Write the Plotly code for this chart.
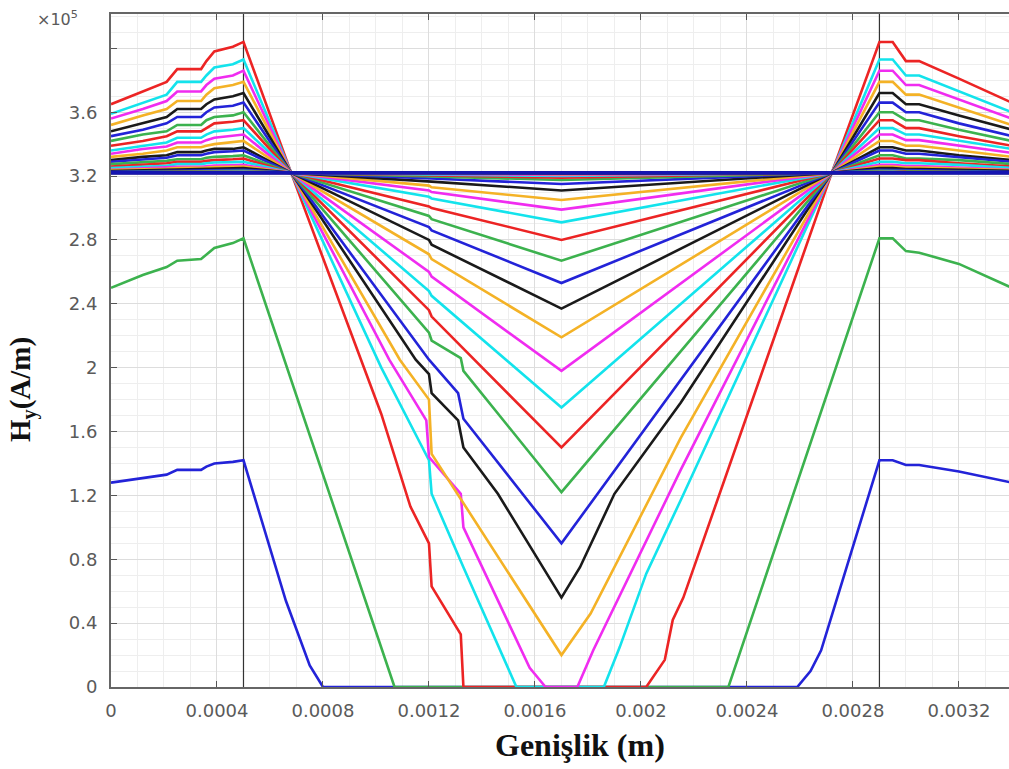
import plotly.graph_objects as go

# ---------------------------------------------------------------
# H_y profiles across the width (x in m, H_y in units of 1e5 A/m)
# ---------------------------------------------------------------

# positions shared by the outer (edge) segments of every curve
left_x = [0, 0.00012, 0.00021, 0.00025, 0.00034, 0.00036, 0.00039, 0.00046, 0.0005]
right_x = [0.0029, 0.00295, 0.0030, 0.00305, 0.0032, 0.0034]

# inner-segment positions used by the shallower curves
shallow_mid_x = [0.00068, 0.0012, 0.00121, 0.0017, 0.00272]

left_y = [
    [1.28, 1.31, 1.33, 1.36, 1.36, 1.38, 1.40, 1.41, 1.42],
    [2.50, 2.58, 2.63, 2.67, 2.68, 2.71, 2.75, 2.78, 2.81],
    [3.65, 3.73, 3.79, 3.87, 3.87, 3.92, 3.98, 4.01, 4.04],
    [3.59, 3.66, 3.71, 3.79, 3.79, 3.83, 3.88, 3.90, 3.93],
    [3.56, 3.62, 3.67, 3.73, 3.73, 3.77, 3.81, 3.83, 3.86],
    [3.52, 3.58, 3.62, 3.67, 3.67, 3.71, 3.75, 3.77, 3.79],
    [3.48, 3.53, 3.57, 3.62, 3.62, 3.65, 3.68, 3.70, 3.72],
    [3.45, 3.49, 3.53, 3.57, 3.57, 3.60, 3.63, 3.64, 3.66],
    [3.42, 3.46, 3.48, 3.52, 3.52, 3.55, 3.57, 3.58, 3.60],
    [3.39, 3.42, 3.45, 3.48, 3.48, 3.50, 3.53, 3.54, 3.55],
    [3.36, 3.39, 3.41, 3.44, 3.44, 3.46, 3.48, 3.49, 3.50],
    [3.34, 3.37, 3.385, 3.41, 3.41, 3.425, 3.44, 3.45, 3.46],
    [3.32, 3.34, 3.36, 3.38, 3.38, 3.39, 3.40, 3.41, 3.42],
    [3.30, 3.32, 3.33, 3.35, 3.35, 3.36, 3.37, 3.37, 3.38],
    [3.29, 3.305, 3.315, 3.33, 3.33, 3.34, 3.35, 3.355, 3.36],
    [3.275, 3.285, 3.295, 3.305, 3.305, 3.315, 3.32, 3.325, 3.33],
    [3.26, 3.27, 3.28, 3.29, 3.29, 3.295, 3.30, 3.305, 3.31],
    [3.25, 3.26, 3.265, 3.275, 3.275, 3.28, 3.285, 3.287, 3.29],
    [3.24, 3.248, 3.252, 3.258, 3.258, 3.262, 3.266, 3.268, 3.27],
    [3.237, 3.24, 3.245, 3.25, 3.25, 3.253, 3.256, 3.258, 3.26],
    [3.231, 3.235, 3.238, 3.242, 3.242, 3.244, 3.247, 3.248, 3.25],
    [3.226, 3.229, 3.231, 3.234, 3.234, 3.236, 3.238, 3.239, 3.24],
    [3.223, 3.225, 3.226, 3.228, 3.228, 3.229, 3.231, 3.232, 3.233],
    [3.222, 3.223, 3.224, 3.225, 3.225, 3.226, 3.227, 3.228, 3.229],
    [3.221, 3.222, 3.222, 3.223, 3.223, 3.224, 3.225, 3.225, 3.226],
    [3.221, 3.221, 3.221, 3.222, 3.222, 3.222, 3.223, 3.223, 3.224],
    [3.22, 3.22, 3.221, 3.221, 3.221, 3.221, 3.222, 3.222, 3.222],
    [3.22, 3.22, 3.22, 3.22, 3.22, 3.22, 3.221, 3.221, 3.221],
    [3.22, 3.22, 3.22, 3.22, 3.22, 3.22, 3.22, 3.22, 3.22],
]

mid_x = [
    [0.00066, 0.00075, 0.0008, 0.00259, 0.00264, 0.00268, 0.00273],
    [0.00107, 0.00233],
    [0.00068, 0.00102, 0.00113, 0.0012, 0.00121, 0.00132, 0.00133,
     0.00202, 0.00209, 0.00212, 0.00216, 0.00272],
    [0.00068, 0.00102, 0.0012, 0.00121, 0.00133, 0.00143, 0.00153,
     0.00186, 0.00192, 0.00202, 0.00215, 0.00272],
    [0.00068, 0.00105, 0.00119, 0.0012, 0.00132, 0.00133, 0.00158,
     0.00164, 0.00176, 0.00182, 0.00215, 0.00272],
    [0.00068, 0.00109, 0.0012, 0.00121, 0.0017, 0.00181, 0.00215, 0.00272],
    [0.00068, 0.00115, 0.0012, 0.00121, 0.00131, 0.00133, 0.00146,
     0.0017, 0.00177, 0.0019, 0.00215, 0.00272],
    [0.00068, 0.0012, 0.00131, 0.00133, 0.0017, 0.00272],
    [0.00068, 0.0012, 0.00121, 0.00132, 0.00133, 0.0017, 0.00272],
] + [shallow_mid_x] * 20

mid_y = [
    [0.54, 0.135, 0.0, 0.0, 0.10, 0.23, 0.50],
    [0.0, 0.0],
    [3.22, 1.71, 1.13, 0.90, 0.63, 0.33, 0.0, 0.0, 0.17, 0.42, 0.56, 3.22],
    [3.22, 2.00, 1.42, 1.21, 0.75, 0.38, 0.0, 0.0, 0.25, 0.71, 1.17, 3.22],
    [3.22, 2.05, 1.67, 1.44, 1.21, 1.00, 0.12, 0.0, 0.0, 0.23, 1.36, 3.22],
    [3.22, 2.05, 1.80, 1.46, 0.20, 0.46, 1.56, 3.22],
    [3.22, 2.05, 1.96, 1.84, 1.67, 1.50, 1.21, 0.56, 0.75, 1.21, 1.78, 3.22],
    [3.22, 2.05, 1.84, 1.68, 0.90, 3.22],
    [3.22, 2.22, 2.17, 2.06, 1.98, 1.22, 3.22],
    [3.22, 2.36, 2.32, 1.50, 3.22],
    [3.22, 2.48, 2.45, 1.75, 3.22],
    [3.22, 2.60, 2.57, 1.98, 3.22],
    [3.22, 2.71, 2.68, 2.19, 3.22],
    [3.22, 2.80, 2.77, 2.37, 3.22],
    [3.22, 2.88, 2.86, 2.53, 3.22],
    [3.22, 2.95, 2.93, 2.67, 3.22],
    [3.22, 3.01, 3.00, 2.80, 3.22],
    [3.22, 3.07, 3.06, 2.91, 3.22],
    [3.22, 3.11, 3.10, 2.99, 3.22],
    [3.22, 3.14, 3.13, 3.05, 3.22],
    [3.22, 3.17, 3.165, 3.11, 3.22],
    [3.22, 3.19, 3.185, 3.15, 3.22],
    [3.22, 3.20, 3.198, 3.175, 3.22],
    [3.22, 3.207, 3.205, 3.19, 3.22],
    [3.22, 3.212, 3.211, 3.20, 3.22],
    [3.22, 3.215, 3.214, 3.207, 3.22],
    [3.22, 3.217, 3.217, 3.212, 3.22],
    [3.22, 3.219, 3.219, 3.216, 3.22],
    [3.22, 3.22, 3.22, 3.22, 3.22],
]

right_y = [
    [1.42, 1.42, 1.39, 1.39, 1.35, 1.28],
    [2.81, 2.81, 2.73, 2.72, 2.65, 2.50],
    [4.04, 4.04, 3.92, 3.92, 3.81, 3.66],
    [3.93, 3.93, 3.83, 3.83, 3.73, 3.60],
    [3.86, 3.86, 3.77, 3.77, 3.68, 3.56],
    [3.79, 3.79, 3.71, 3.71, 3.63, 3.52],
    [3.72, 3.72, 3.65, 3.65, 3.58, 3.49],
    [3.66, 3.66, 3.60, 3.60, 3.53, 3.45],
    [3.60, 3.60, 3.55, 3.55, 3.49, 3.42],
    [3.55, 3.55, 3.50, 3.50, 3.45, 3.39],
    [3.50, 3.50, 3.46, 3.46, 3.42, 3.37],
    [3.46, 3.46, 3.425, 3.425, 3.39, 3.345],
    [3.42, 3.42, 3.39, 3.39, 3.36, 3.32],
    [3.38, 3.38, 3.36, 3.36, 3.33, 3.30],
    [3.36, 3.36, 3.34, 3.34, 3.32, 3.29],
    [3.33, 3.33, 3.31, 3.31, 3.30, 3.275],
    [3.31, 3.31, 3.30, 3.30, 3.28, 3.26],
    [3.29, 3.29, 3.28, 3.28, 3.27, 3.25],
    [3.27, 3.27, 3.262, 3.262, 3.253, 3.24],
    [3.26, 3.26, 3.253, 3.253, 3.246, 3.237],
    [3.25, 3.25, 3.244, 3.244, 3.239, 3.232],
    [3.24, 3.24, 3.236, 3.236, 3.232, 3.226],
    [3.233, 3.233, 3.23, 3.23, 3.227, 3.223],
    [3.229, 3.229, 3.226, 3.226, 3.224, 3.222],
    [3.226, 3.226, 3.224, 3.224, 3.223, 3.221],
    [3.224, 3.224, 3.223, 3.223, 3.222, 3.221],
    [3.222, 3.222, 3.221, 3.221, 3.221, 3.22],
    [3.221, 3.221, 3.221, 3.221, 3.22, 3.22],
    [3.22, 3.22, 3.22, 3.22, 3.22, 3.22],
]

# colour cycle applied to the curves in order
line_colors = ["#2323d8", "#3cb24e", "#ec2424", "#13e3ec",
               "#f02cf0", "#f4b226", "#1a1a1a"]

# material boundaries (m)
boundary_x = [0.0005, 0.0029]

x_tick_vals = [0, 0.0004, 0.0008, 0.0012, 0.0016, 0.002, 0.0024, 0.0028, 0.0032]
x_tick_text = ["0", "0.0004", "0.0008", "0.0012", "0.0016", "0.002",
               "0.0024", "0.0028", "0.0032"]
y_tick_vals = [0, 0.4, 0.8, 1.2, 1.6, 2.0, 2.4, 2.8, 3.2, 3.6, 4.0]
y_tick_text = ["0", "0.4", "0.8", "1.2", "1.6", "2", "2.4", "2.8", "3.2", "3.6", ""]

X_MAX = 0.003389
Y_MAX = 4.215

fig = go.Figure()

# thin boundary markers go underneath the field curves
for bx in boundary_x:
    fig.add_trace(go.Scatter(
        x=[bx, bx], y=[0, Y_MAX], mode="lines",
        line=dict(color="#333333", width=1.2),
        showlegend=False, hoverinfo="skip",
    ))

n_curves = len(left_y)
for k in range(n_curves):
    xs = left_x + mid_x[k] + right_x
    ys = left_y[k] + mid_y[k] + right_y[k]
    last = k == n_curves - 1
    fig.add_trace(go.Scatter(
        x=xs, y=ys, mode="lines",
        line=dict(color="#1515b0" if last else line_colors[k % len(line_colors)],
                  width=3.6 if last else 2.6),
        showlegend=False, hoverinfo="skip",
    ))

tick_font = dict(family="DejaVu Sans", size=18, color="#5a5a5a")
grid_major = "#dddddd"
grid_minor = "#eeeeee"

fig.update_xaxes(
    range=[0, X_MAX], tickmode="array", tickvals=x_tick_vals, ticktext=x_tick_text,
    ticks="inside", ticklen=6, tickwidth=1.2, tickcolor="#555555",
    showline=True, linecolor="#666666", linewidth=2, mirror="ticks",
    showgrid=True, gridcolor=grid_major, gridwidth=1, zeroline=False,
    minor=dict(tickmode="linear", tick0=0, dtick=0.0001, showgrid=True,
               gridcolor=grid_minor, gridwidth=1, ticks=""),
    tickfont=tick_font, ticklabelstandoff=6,
)
fig.update_yaxes(
    range=[0, Y_MAX], tickmode="array", tickvals=y_tick_vals, ticktext=y_tick_text,
    ticks="inside", ticklen=6, tickwidth=1.2, tickcolor="#555555",
    showline=True, linecolor="#666666", linewidth=2, mirror=False,
    showgrid=True, gridcolor=grid_major, gridwidth=1, zeroline=False,
    minor=dict(tickmode="linear", tick0=0, dtick=0.1, showgrid=True,
               gridcolor=grid_minor, gridwidth=1, ticks=""),
    tickfont=tick_font, ticklabelstandoff=8,
)

y_title_font = dict(family="Liberation Serif", size=29, color="#111111")
x_title_font = dict(family="Liberation Serif", size=32, color="#111111")

fig.update_layout(
    width=1009, height=769,
    margin=dict(l=111, r=0, t=14, b=82),
    paper_bgcolor="white", plot_bgcolor="white",
    showlegend=False,
    annotations=[
        dict(text="×10<sup>5</sup>", xref="paper", yref="paper",
             x=-(111 - 57) / 898, y=(687 - 19) / 673,
             xanchor="center", yanchor="middle",
             showarrow=False, font=dict(family="DejaVu Sans", size=16, color="#5a5a5a")),
        dict(text="<b>Genişlik (m)</b>", xref="paper", yref="paper",
             x=(580 - 111) / 898, y=-(745 - 687) / 673,
             xanchor="center", yanchor="middle", showarrow=False, font=x_title_font),
        dict(text="<b>H<sub>y</sub>(A/m)</b>", xref="paper", yref="paper",
             x=-(111 - 22) / 898, y=(687 - 390) / 673, textangle=-90,
             xanchor="center", yanchor="middle", showarrow=False, font=y_title_font),
    ],
)

fig.write_html("out.html")
